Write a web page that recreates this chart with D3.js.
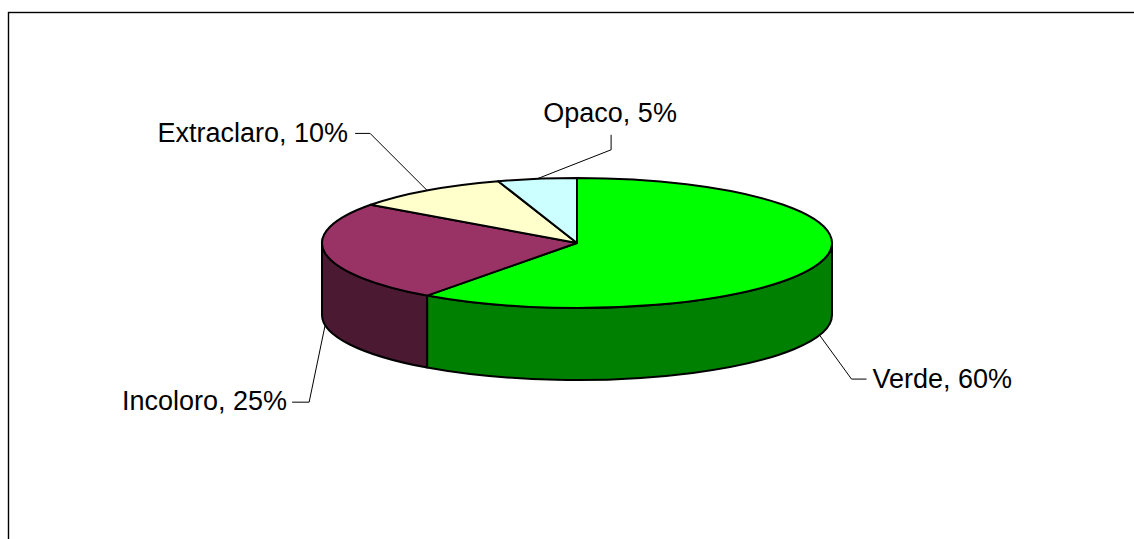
<!DOCTYPE html>
<html>
<head>
<meta charset="utf-8">
<script src="https://cdn.jsdelivr.net/npm/d3@7"></script>
<style>
  html, body { margin: 0; padding: 0; background: #fff; }
  svg { display: block; }
  text { font-family: "Liberation Sans", Arial, sans-serif; font-size: 27px; fill: #000; }
</style>
</head>
<body>
<svg id="chart" width="1134" height="539"></svg>
<script>
// Glass types and their shares (%)
const categories = ["Verde", "Incoloro", "Extraclaro", "Opaco"];
const shares = [60, 25, 10, 5];
const topColors = ["#00FF00", "#993366", "#FFFFCC", "#CCFFFF"];
const sideColors = ["#008000", "#4C1933", "#808066", "#668080"];

// Pie geometry (an ellipse tilted into 3D with a visible wall)
const cx = 577, cy = 243, rx = 255, ry = 65, depth = 72;

// Leader-line elbows and label anchors relative to each slice's rim point
const leaderLayout = [
  { elbow: [32, 44], tail: [15, 0], anchor: "start", dx: 6, dy: 9 },
  { elbow: [-16, 77], tail: [-17, 0], anchor: "end", dx: -5, dy: 8 },
  { elbow: [-57, -57], tail: [-15, 0], anchor: "end", dx: -7, dy: 9 },
  { elbow: [74, -29], tail: [0, -15], anchor: "middle", dx: -1, dy: -13 }
];

const svg = d3.select("#chart");

// Chart frame
svg.append("rect")
  .attr("x", 8.5).attr("y", 12.5)
  .attr("width", 1140).attr("height", 540)
  .attr("fill", "none").attr("stroke", "#000").attr("stroke-width", 1.4);

const pie = d3.pie().sort(null).value(d => d.value)
  .startAngle(0).endAngle(2 * Math.PI);
const arcs = pie(categories.map((c, i) => ({ name: c, value: shares[i], i })));

const px = a => cx + rx * Math.sin(a);
const py = (a, dz = 0) => cy - ry * Math.cos(a) + dz;

function topPath(d) {
  const a0 = d.startAngle, a1 = d.endAngle;
  const large = (a1 - a0) > Math.PI ? 1 : 0;
  return `M${cx},${cy}L${px(a0)},${py(a0)}A${rx},${ry} 0 ${large} 1 ${px(a1)},${py(a1)}Z`;
}

function sidePath(d) {
  const s = Math.max(d.startAngle, Math.PI / 2);
  const e = Math.min(d.endAngle, 3 * Math.PI / 2);
  if (e <= s) return null;
  const large = (e - s) > Math.PI ? 1 : 0;
  return `M${px(s)},${py(s)}A${rx},${ry} 0 ${large} 1 ${px(e)},${py(e)}` +
    `L${px(e)},${py(e, depth)}A${rx},${ry} 0 ${large} 0 ${px(s)},${py(s, depth)}Z`;
}

const g = svg.append("g");

// Walls first, then the top faces
g.selectAll("path.side")
  .data(arcs.filter(d => sidePath(d)))
  .join("path")
  .attr("class", "side")
  .attr("d", sidePath)
  .attr("fill", d => sideColors[d.data.i])
  .attr("stroke", "#000").attr("stroke-width", 2).attr("stroke-linejoin", "round");

g.selectAll("path.top")
  .data(arcs)
  .join("path")
  .attr("class", "top")
  .attr("d", topPath)
  .attr("fill", d => topColors[d.data.i])
  .attr("stroke", "#000").attr("stroke-width", 2).attr("stroke-linejoin", "round");

// Leader lines and labels
const labels = svg.append("g");
arcs.forEach(d => {
  const mid = (d.startAngle + d.endAngle) / 2;
  const front = mid > Math.PI / 2 && mid < 3 * Math.PI / 2;
  const x0 = px(mid), y0 = py(mid, front ? depth : 0);
  const L = leaderLayout[d.data.i];
  const ex = x0 + L.elbow[0], ey = y0 + L.elbow[1];
  const tx = ex + L.tail[0], ty = ey + L.tail[1];
  labels.append("path")
    .attr("d", `M${x0},${y0}L${ex},${ey}L${tx},${ty}`)
    .attr("fill", "none").attr("stroke", "#000").attr("stroke-width", 1);
  labels.append("text")
    .attr("x", tx + L.dx).attr("y", ty + L.dy)
    .attr("text-anchor", L.anchor)
    .text(`${d.data.name}, ${d.data.value}%`);
});
</script>
</body>
</html>
